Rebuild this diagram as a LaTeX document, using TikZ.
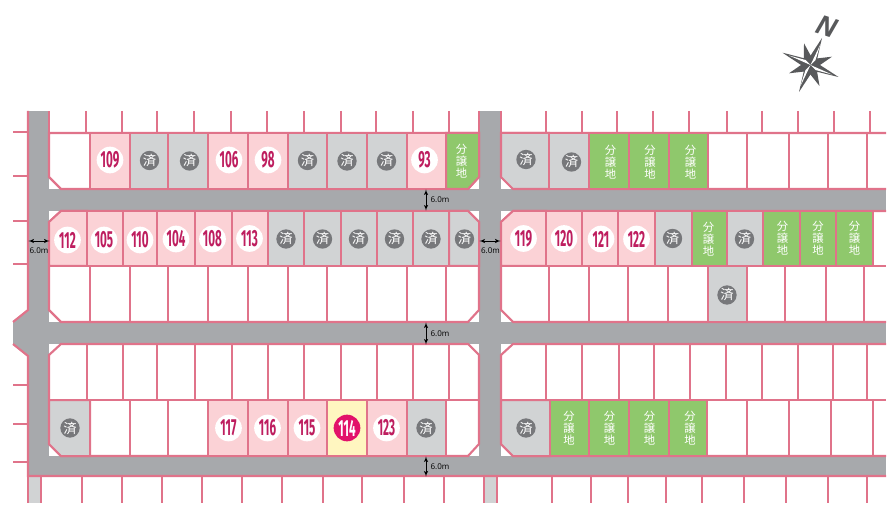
\documentclass[tikz,border=0pt]{standalone}
\usepackage{fontspec}
\usetikzlibrary{arrows}
\setmainfont{Open Sans}
\newfontfamily\numfont[FakeStretch=0.5]{Fira Sans}
\newfontfamily\jpfont{Noto Sans CJK JP}
\definecolor{fencepink}{HTML}{E0738A}
\definecolor{roadgray}{HTML}{A7A9AC}
\definecolor{soldgray}{HTML}{D1D3D4}
\definecolor{spotgray}{HTML}{77787B}
\definecolor{lotpink}{HTML}{FBD2D6}
\definecolor{lotgreen}{HTML}{8FC86C}
\definecolor{lotyellow}{HTML}{FFF6C0}
\definecolor{numred}{HTML}{BE1E5F}
\definecolor{spotred}{HTML}{E2126A}
\definecolor{compassgray}{HTML}{58595B}
\tikzset{
    road/.style = {
        fill=roadgray
    },
    block/.style = {
        fill=white,
        draw=fencepink,
        line width=1.6pt
    },
    fence/.style = {
        draw=fencepink,
        line width=2.2pt
    },
    soldlot/.style = {
        fill=soldgray,
        draw=fencepink,
        line width=1.9pt
    },
    numlot/.style = {
        fill=lotpink,
        draw=fencepink,
        line width=1.9pt
    },
    salelot/.style = {
        fill=lotgreen,
        draw=fencepink,
        line width=1.9pt
    },
    corner/.style = {
        line width=1.5pt
    },
    soldspot/.style = {
        shape=circle,
        fill=spotgray,
        text=white,
        inner sep=0pt,
        minimum size=14.5pt,
        font=\jpfont\fontsize{10}{10}\selectfont
    },
    numspot/.style = {
        shape=circle,
        fill=white,
        text=numred,
        inner sep=0pt,
        minimum size=20pt,
        font=\numfont\bfseries\fontsize{17.5}{17.5}\selectfont
    },
    salelabel/.style = {
        text=white,
        inner sep=0pt,
        align=center,
        font=\jpfont\fontsize{8.5}{9}\selectfont
    },
    width/.style = {
        inner sep=0pt,
        font=\fontsize{6}{6}\selectfont
    },
    widthline/.style = {
        draw=black,
        line width=0.5pt,
        <->,
        shorten >=-0.5pt,
        shorten <=-0.5pt
    },
    >=latex',
}

\begin{document}
\begin{tikzpicture}[x=0.75pt,y=-0.75pt]
    \useasboundingbox (0,0) rectangle (891,523);

    % roads
    \path[road] (28,111) rectangle (49,476);
    \path[road] (479,111) rectangle (501,476);
    \path[road] (28,189) rectangle (886,211);
    \path[road] (28,322) rectangle (886,344);
    \path[road] (28,456) rectangle (886,476);
    \path[road] (28,310) -- (13,322) -- (13,344) -- (28,356) -- cycle;
    \path[fill=soldgray] (28,476) rectangle (41,503);
    \path[fill=soldgray] (484,476) rectangle (497,503);

    % blocks
    \path[block] (49,133) -- (479,133) -- (479,177) -- (468,189) -- (61,189) -- (49,177) -- cycle;
    \path[block] (61,211) -- (468,211) -- (479,222) -- (479,310) -- (468,322) -- (61,322) -- (49,310) -- (49,222) -- cycle;
    \path[block] (61,344) -- (468,344) -- (479,355) -- (479,444) -- (468,456) -- (61,456) -- (49,444) -- (49,355) -- cycle;
    \path[block] (886,133) -- (501,133) -- (501,177) -- (513,189) -- (886,189);
    \path[block] (886,211) -- (513,211) -- (501,222) -- (501,310) -- (513,322) -- (886,322);
    \path[block] (886,344) -- (513,344) -- (501,355) -- (501,444) -- (513,456) -- (886,456);

    % lots in colour
    \path[numlot] (90,133) rectangle (130,189);
    \path[soldlot] (130,133) rectangle (168,189);
    \path[soldlot] (168,133) rectangle (208,189);
    \path[numlot] (208,133) rectangle (248,189);
    \path[numlot] (248,133) rectangle (288,189);
    \path[soldlot] (288,133) rectangle (327,189);
    \path[soldlot] (327,133) rectangle (367,189);
    \path[soldlot] (367,133) rectangle (407,189);
    \path[numlot] (407,133) rectangle (446,189);
    \path[salelot, corner] (446,133) -- (479,133) -- (479,177) -- (468,189) -- (446,189) -- cycle;
    \path[soldlot, corner] (549,133) -- (501,133) -- (501,177) -- (513,189) -- (549,189) -- cycle;
    \path[soldlot] (549,133) rectangle (589,189);
    \path[salelot] (589,133) rectangle (629,189);
    \path[salelot] (629,133) rectangle (669,189);
    \path[salelot] (669,133) rectangle (708,189);

    \path[numlot, corner] (87,211) -- (61,211) -- (49,222) -- (49,266) -- (87,266) -- cycle;
    \path[numlot] (87,211) rectangle (123,266);
    \path[numlot] (123,211) rectangle (157,266);
    \path[numlot] (157,211) rectangle (195,266);
    \path[numlot] (195,211) rectangle (232,266);
    \path[numlot] (232,211) rectangle (268,266);
    \path[soldlot] (268,211) rectangle (304,266);
    \path[soldlot] (304,211) rectangle (341,266);
    \path[soldlot] (341,211) rectangle (377,266);
    \path[soldlot] (377,211) rectangle (413,266);
    \path[soldlot] (413,211) rectangle (449,266);
    \path[soldlot, corner] (449,211) -- (468,211) -- (479,222) -- (479,266) -- (449,266) -- cycle;
    \path[numlot, corner] (546,211) -- (513,211) -- (501,222) -- (501,266) -- (546,266) -- cycle;
    \path[numlot] (546,211) rectangle (582,266);
    \path[numlot] (582,211) rectangle (618,266);
    \path[numlot] (618,211) rectangle (655,266);
    \path[soldlot] (655,211) rectangle (692,266);
    \path[salelot] (692,211) rectangle (727,266);
    \path[soldlot] (727,211) rectangle (763,266);
    \path[salelot] (763,211) rectangle (800,266);
    \path[salelot] (800,211) rectangle (836,266);
    \path[salelot] (836,211) rectangle (873,266);
    \path[soldlot] (708,266) rectangle (747,322);

    \path[soldlot, corner] (90,400) -- (49,400) -- (49,444) -- (61,456) -- (90,456) -- cycle;
    \path[numlot] (208,400) rectangle (248,456);
    \path[numlot] (248,400) rectangle (288,456);
    \path[numlot] (288,400) rectangle (327,456);
    \path[numlot, fill=lotyellow] (327,400) rectangle (367,456);
    \path[numlot] (367,400) rectangle (407,456);
    \path[soldlot] (407,400) rectangle (446,456);
    \path[soldlot, corner] (550,400) -- (501,400) -- (501,444) -- (513,456) -- (550,456) -- cycle;
    \path[salelot] (550,400) rectangle (589,456);
    \path[salelot] (589,400) rectangle (629,456);
    \path[salelot] (629,400) rectangle (669,456);
    \path[salelot] (669,400) rectangle (707,456);

    % dividers of the open lots
    \path[fence] (90,266) -- (90,322) (130,266) -- (130,322) (168,266) -- (168,322) (208,266) -- (208,322) (248,266) -- (248,322) (288,266) -- (288,322) (327,266) -- (327,322) (367,266) -- (367,322) (407,266) -- (407,322) (446,266) -- (446,322);
    \path[fence] (87,344) -- (87,400) (123,344) -- (123,400) (157,344) -- (157,400) (195,344) -- (195,400) (232,344) -- (232,400) (268,344) -- (268,400) (304,344) -- (304,400) (341,344) -- (341,400) (377,344) -- (377,400) (413,344) -- (413,400) (449,344) -- (449,400);
    \path[fence] (130,400) -- (130,456) (168,400) -- (168,456);
    \path[fence] (747,133) -- (747,189) (789,133) -- (789,189) (828,133) -- (828,189) (867,133) -- (867,189);
    \path[fence] (549,266) -- (549,322) (589,266) -- (589,322) (628,266) -- (628,322) (668,266) -- (668,322) (785,266) -- (785,322) (826,266) -- (826,322) (864,266) -- (864,322);
    \path[fence] (546,344) -- (546,400) (582,344) -- (582,400) (619,344) -- (619,400) (654,344) -- (654,400) (690,344) -- (690,400) (726,344) -- (726,400) (762,344) -- (762,400) (798,344) -- (798,400) (833,344) -- (833,400) (867,344) -- (867,400);
    \path[fence] (747,400) -- (747,456) (789,400) -- (789,456) (831,400) -- (831,456) (873,400) -- (873,456);
    \path[fence] (49,266) -- (479,266) (501,266) -- (886,266) (49,400) -- (479,400) (501,400) -- (886,400);

    % outer edge of the roads and the neighbouring plots
    \path[block, fill=none] (28,111) -- (28,310) -- (13,322);
    \path[block, fill=none] (13,344) -- (28,356) -- (28,476) -- (886,476);
    \path[fence] (49,111) -- (49,133) (86,111) -- (86,133) (122,111) -- (122,133) (157,111) -- (157,133) (194,111) -- (194,133) (231,111) -- (231,133) (267,111) -- (267,133) (304,111) -- (304,133) (341,111) -- (341,133) (376,111) -- (376,133) (413,111) -- (413,133) (449,111) -- (449,133) (479,111) -- (479,133);
    \path[fence] (501,111) -- (501,133) (546,111) -- (546,133) (582,111) -- (582,133) (617,111) -- (617,133) (653,111) -- (653,133) (689,111) -- (689,133) (727,111) -- (727,133) (762,111) -- (762,133) (798,111) -- (798,133) (834,111) -- (834,133) (870,111) -- (870,133);
    \path[fence] (28,476) -- (28,503) (41,476) -- (41,503) (82,476) -- (82,503) (122,476) -- (122,503) (162,476) -- (162,503) (202,476) -- (202,503) (242,476) -- (242,503) (282,476) -- (282,503) (323,476) -- (323,503) (362,476) -- (362,503) (404,476) -- (404,503) (444,476) -- (444,503) (484,476) -- (484,503) (497,476) -- (497,503);
    \path[fence] (552,476) -- (552,503) (591,476) -- (591,503) (628,476) -- (628,503) (666,476) -- (666,503) (702,476) -- (702,503) (744,476) -- (744,503) (786,476) -- (786,503) (828,476) -- (828,503) (867,476) -- (867,503);
    \path[fence] (13,132) -- (28,132) (13,176) -- (28,176) (13,221) -- (28,221) (13,264) -- (28,264) (13,385) -- (28,385) (13,424) -- (28,424) (13,462) -- (28,462);

    % first row
    \node[numspot] (lot109) at (110,160) {109};
    \node[soldspot] (sold1) at (149.5,160.5) {済};
    \node[soldspot] (sold2) at (189.5,161) {済};
    \node[numspot] (lot106) at (229,160) {106};
    \node[numspot] (lot98) at (268,160) {98};
    \node[soldspot] (sold3) at (307.5,160.5) {済};
    \node[soldspot] (sold4) at (347,161) {済};
    \node[soldspot] (sold5) at (386.5,161) {済};
    \node[numspot] (lot93) at (424.5,160) {93};
    \node[salelabel] (sale1) at (461.5,161.5) {分\\譲\\地};
    \node[soldspot] (sold6) at (526,159.5) {済};
    \node[soldspot] (sold7) at (571.5,162) {済};
    \node[salelabel] (sale2) at (610.5,162) {分\\譲\\地};
    \node[salelabel] (sale3) at (650,162) {分\\譲\\地};
    \node[salelabel] (sale4) at (690.5,162) {分\\譲\\地};

    % second row
    \node[numspot] (lot112) at (67.5,240) {112};
    \node[numspot] (lot105) at (104,240) {105};
    \node[numspot] (lot110) at (140,240) {110};
    \node[numspot] (lot104) at (176,239) {104};
    \node[numspot] (lot108) at (212.5,239) {108};
    \node[numspot] (lot113) at (249.5,238.5) {113};
    \node[soldspot] (sold8) at (286,239) {済};
    \node[soldspot] (sold9) at (322.5,239) {済};
    \node[soldspot] (sold10) at (358.5,239) {済};
    \node[soldspot] (sold11) at (394.5,239) {済};
    \node[soldspot] (sold12) at (431,239) {済};
    \node[soldspot] (sold13) at (464.5,239) {済};
    \node[numspot] (lot119) at (523.5,238.5) {119};
    \node[numspot] (lot120) at (564,238.5) {120};
    \node[numspot] (lot121) at (601,239) {121};
    \node[numspot] (lot122) at (636.5,239) {122};
    \node[soldspot] (sold14) at (672.5,238.5) {済};
    \node[salelabel] (sale5) at (708.5,239) {分\\譲\\地};
    \node[soldspot] (sold15) at (744.5,239) {済};
    \node[salelabel] (sale6) at (782.5,238) {分\\譲\\地};
    \node[salelabel] (sale7) at (818,238) {分\\譲\\地};
    \node[salelabel] (sale8) at (854.5,238) {分\\譲\\地};

    % third row
    \node[soldspot] (sold16) at (727,295) {済};

    % fifth row
    \node[soldspot] (sold17) at (70,428) {済};
    \node[numspot] (lot117) at (228.5,428) {117};
    \node[numspot] (lot116) at (267.5,428) {116};
    \node[numspot] (lot115) at (307,428) {115};
    \node[numspot, fill=spotred, text=white] (lot114) at (347,428) {114};
    \node[numspot] (lot123) at (386.5,428) {123};
    \node[soldspot] (sold18) at (426,428) {済};
    \node[soldspot] (sold19) at (526,428) {済};
    \node[salelabel] (sale9) at (569,428) {分\\譲\\地};
    \node[salelabel] (sale10) at (609.5,428) {分\\譲\\地};
    \node[salelabel] (sale11) at (649.5,428) {分\\譲\\地};
    \node[salelabel] (sale12) at (690,428) {分\\譲\\地};

    % road widths
    \coordinate (lefta) at (29,241);
    \coordinate (leftb) at (49,241);
    \coordinate (mida) at (480,241);
    \coordinate (midb) at (500,241);
    \coordinate (topa) at (426,190);
    \coordinate (topb) at (426,210);
    \coordinate (cena) at (426,323);
    \coordinate (cenb) at (426,344);
    \coordinate (lowa) at (426,457);
    \coordinate (lowb) at (426,476);
    \path[widthline] (lefta) -- (leftb);
    \path[widthline] (mida) -- (midb);
    \path[widthline] (topa) -- (topb);
    \path[widthline] (cena) -- (cenb);
    \path[widthline] (lowa) -- (lowb);
    \node[width] (leftwidth) at (39,251) {6.0m};
    \node[width] (midwidth) at (490.5,251) {6.0m};
    \node[width] (topwidth) at (440,200) {6.0m};
    \node[width] (cenwidth) at (440,334) {6.0m};
    \node[width] (lowwidth) at (440,467) {6.0m};

    % compass
    \coordinate (needle) at (810.5,65);
    \path[fill=compassgray] (822,38) -- (817.3,58.4) -- (832,56.7) -- (820,65) -- (838.5,77) -- (817.1,71.8) -- (819.5,86) -- (810.4,74.5) -- (799,92) -- (803.7,71.6) -- (789,73.3) -- (801,65) -- (782.5,52.7) -- (803.9,58.2) -- (804,43.3) -- (810.6,55.5) -- cycle;
    \path[fill=white] (needle) -- (820.5,44) -- (815.5,60) -- cycle;
    \path[fill=white] (needle) -- (832,74.5) -- (815.5,70) -- cycle;
    \path[fill=white] (needle) -- (800.5,86) -- (805.5,70) -- cycle;
    \path[fill=white] (needle) -- (789,55.5) -- (805.5,60) -- cycle;
    \node[inner sep=0pt, text=compassgray, rotate=-18, font=\bfseries\itshape\fontsize{20}{20}\selectfont] (north) at (827,27) {N};
\end{tikzpicture}
\end{document}
